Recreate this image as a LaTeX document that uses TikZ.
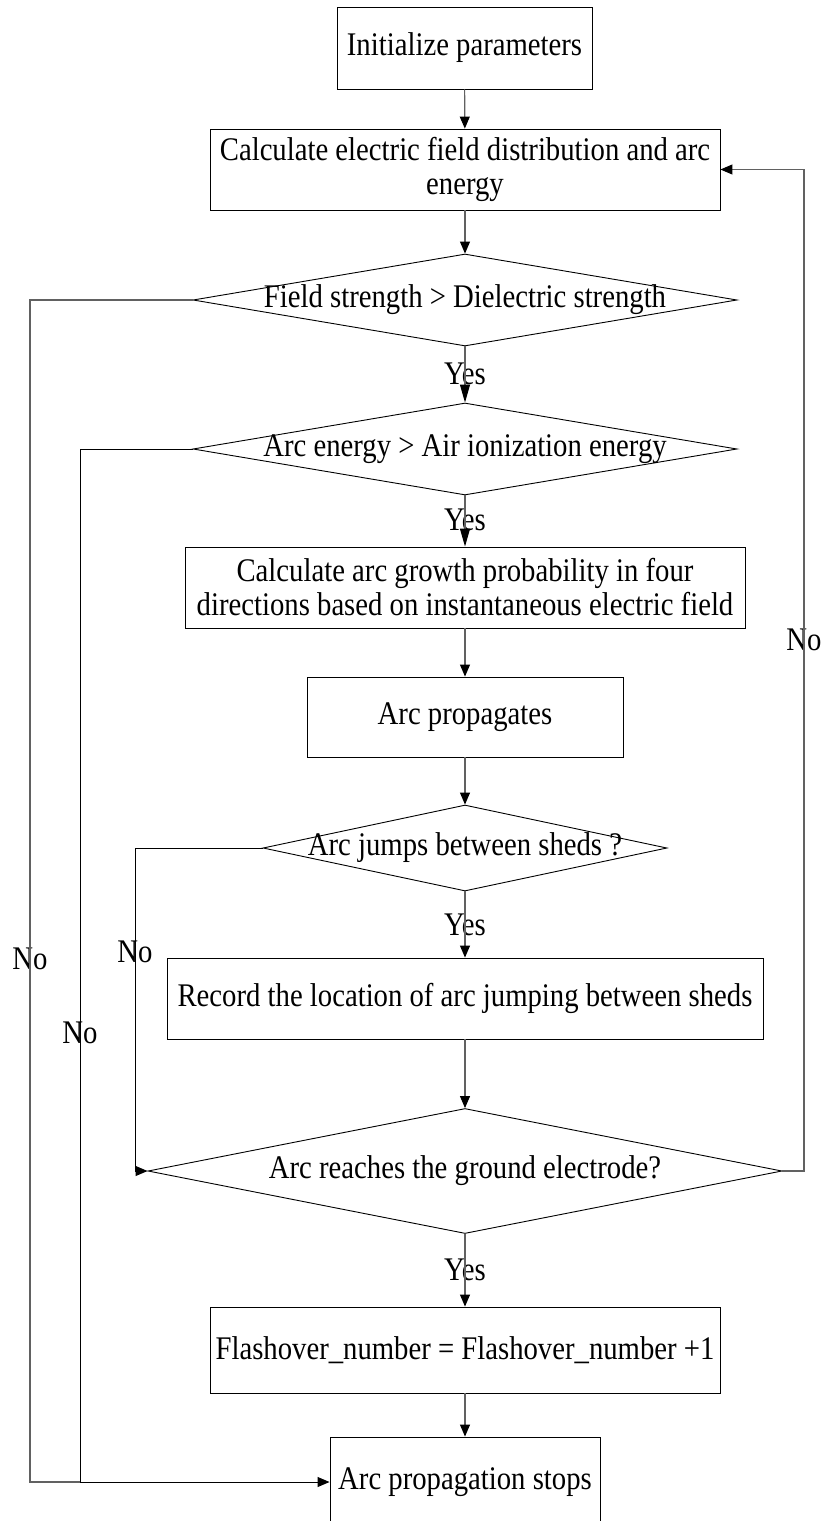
\documentclass[tikz,border=0pt]{standalone}
\usepackage{fontspec}
\setmainfont[FakeStretch=0.87]{Liberation Serif}
\usetikzlibrary{shapes.geometric,arrows.meta}
\newcommand\flowfont{\fontsize{33}{34}\selectfont}
\begin{document}
\begin{tikzpicture}[x=1pt,y=-1pt,
  box/.style={draw=black, line width=0.9pt, rectangle, inner sep=0pt, align=center, font=\flowfont},
  dia/.style={draw=black, line width=0.9pt, diamond, inner sep=0pt},
  txt/.style={font=\flowfont, inner sep=0pt, align=center},
  conn/.style={draw=black!62, line width=1.1pt},
  connb/.style={draw=black, line width=1.0pt},
  arr/.style={-{Triangle[length=12pt,width=10pt,color=black,fill=black]}},
  yarr/.style={-{Triangle[length=18pt,width=10pt,color=black,fill=black]}}
]
\useasboundingbox (0,0) rectangle (826,1521);

% boxes
\node[box, minimum width=255pt, minimum height=82pt] (b1) at (464.5,48) {Initialize parameters};
\node[box, minimum width=510pt, minimum height=81pt] (b2) at (465,169.5) {Calculate electric field distribution and arc\\energy};
\node[dia, minimum width=544pt, minimum height=92pt] (d1) at (465,300) {};
\node[txt] (d1t) at (d1) {Field strength > Dielectric strength};
\node[dia, minimum width=544pt, minimum height=92pt] (d2) at (465,449) {};
\node[txt] (d2t) at (d2) {Arc energy > Air ionization energy};
\node[box, minimum width=560pt, minimum height=81pt] (b3) at (465,587.5) {Calculate arc growth probability in four\\directions based on instantaneous electric field};
\node[box, minimum width=316pt, minimum height=80pt] (b4) at (465,717) {Arc propagates};
\node[dia, minimum width=404pt, minimum height=86pt] (d3) at (465,848) {};
\node[txt] (d3t) at (d3) {Arc jumps between sheds ?};
\node[box, minimum width=596pt, minimum height=81pt] (b5) at (465,998.5) {Record the location of arc jumping between sheds};
\node[dia, minimum width=634pt, minimum height=125pt] (d4) at (465,1171) {};
\node[txt] (d4t) at (d4) {Arc reaches the ground electrode?};
\node[box, minimum width=510pt, minimum height=86pt] (b6) at (465,1350) {Flashover\_number = Flashover\_number +1};
\node[box, minimum width=270pt, minimum height=90pt] (b7) at (465,1482) {Arc propagation stops};

% labels
\node[txt] (y1) at (465,374) {Yes};
\node[txt] (y2) at (465,520) {Yes};
\node[txt] (y3) at (465,925) {Yes};
\node[txt] (y4) at (465,1270) {Yes};
\node[txt] (n1) at (30,959) {No};
\node[txt] (n2) at (80,1033) {No};
\node[txt] (n3) at (135,952) {No};
\node[txt] (n4) at (804,640) {No};

% helper coordinates
\coordinate (o1) at (30,1482);
\coordinate (o2) at (80,1482);
\coordinate (o3) at (135,1171);
\coordinate (o4) at (804,169.5);

% main flow
\draw[conn, arr] (b1) -- (b2);
\draw[conn, arr] (b2) -- (d1);
\draw[conn, yarr] (d1.south) -- (d2.north);
\draw[conn, yarr] (d2.south) -- (b3.north);
\draw[conn, arr] (b3) -- (b4);
\draw[conn, arr] (b4.south) -- (d3.north);
\draw[conn, arr] (d3.south) -- (b5.north);
\draw[conn, arr] (b5.south) -- (d4.north);
\draw[conn, arr] (d4.south) -- (b6.north);
\draw[conn, arr] (b6) -- (b7);

% no branches
\draw[conn] (d1.west) -| (o1) -- (o2);
\draw[connb, arr] (d2.west) -| (o2) -- (b7.west);
\draw[connb, arr] (d3.west) -| (o3) -- (d4.west);
\draw[conn, arr] (d4.east) -| (o4) -- (b2.east);
\end{tikzpicture}
\end{document}
